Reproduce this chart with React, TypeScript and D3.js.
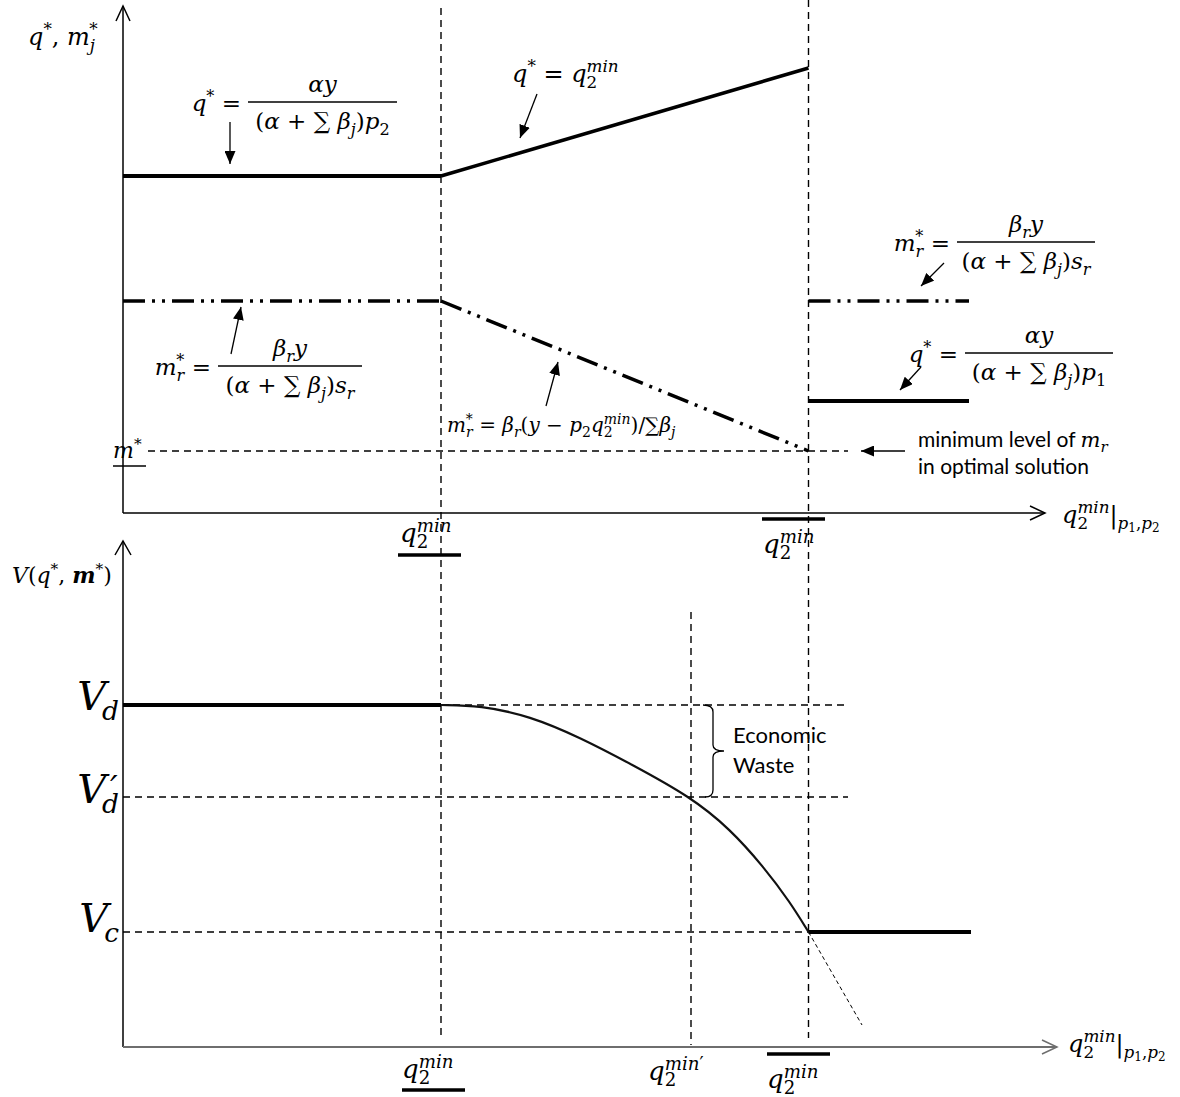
import * as d3 from 'd3';

// x values are in q2min units, y values in quantity / value units
const qLow = 3.18; // underline q2min
const qHigh = 6.855; // overline q2min
const qPrime = 5.68; // q2min'
const xEnd = 8.46;

// top panel: q* and m_r*
const qStarLeft: [number, number][] = [[0, 6.74], [qLow, 6.74]];
const qStarRising: [number, number][] = [[qLow, 6.74], [qHigh, 8.9]];
const qStarRight: [number, number][] = [[qHigh, 2.24], [xEnd, 2.24]];
const mStarLeft: [number, number][] = [[0, 4.24], [qLow, 4.24]];
const mStarFalling: [number, number][] = [[qLow, 4.24], [qHigh, 1.24]];
const mStarRight: [number, number][] = [[qHigh, 4.24], [xEnd, 4.24]];
const mStarMin = 1.24;

// bottom panel: V(q*, m*)
const vd = 6.84;
const vdPrime = 5.0;
const vc = 2.3;
const vLeft: [number, number][] = [[0, vd], [qLow, vd]];
const vCurve: [number, number][] = [
  [3.18, 6.84], [3.57, 6.83], [4.07, 6.62], [4.57, 6.19], [5.07, 5.67],
  [5.68, 5.0], [6.07, 4.36], [6.4, 3.62], [6.67, 2.9], [6.855, 2.3],
];
const vRight: [number, number][] = [[qHigh, vc], [xEnd + 0.02, vc]];
const vExtension: [number, number][] = [[qHigh, vc], [7.39, 0.44]];

const MATH = "'DejaVu Serif', serif";
const SANS = "Lato, 'Open Sans', sans-serif";

const x = d3.scaleLinear().domain([0, 10]).range([123, 1123]);
const yTop = d3.scaleLinear().domain([0, 10]).range([513, 13]);
const yBot = d3.scaleLinear().domain([0, 10]).range([1047, 547]);

const lineTop = d3.line<[number, number]>().x((d) => x(d[0])).y((d) => yTop(d[1]));
const lineBot = d3.line<[number, number]>().x((d) => x(d[0])).y((d) => yBot(d[1]));
const curveBot = d3
  .line<[number, number]>()
  .x((d) => x(d[0]))
  .y((d) => yBot(d[1]))
  .curve(d3.curveBasis);

type Run = { text: string; shift: number; italic: boolean; bold: boolean; dx?: number };

// tiny math markup: _{sub} ^{sup} ;{sub-sub} \b{bold} !{dx in em}
function parseMath(src: string): Run[] {
  const runs: Run[] = [];
  let dx: number | undefined;
  const add = (ch: string, shift: number, bold: boolean) => {
    const italic = /[A-Za-z\u03b1-\u03c9]/.test(ch);
    const last = runs[runs.length - 1];
    if (last && dx === undefined && last.shift === shift && last.italic === italic && last.bold === bold) {
      last.text += ch;
    } else {
      runs.push({ text: ch, shift, italic, bold, dx });
      dx = undefined;
    }
  };
  const group = (start: number): [string, number] => {
    const end = src.indexOf('}', start);
    return [src.slice(start, end), end + 1];
  };
  let i = 0;
  while (i < src.length) {
    const c = src[i];
    if ((c === '_' || c === '^' || c === ';') && src[i + 1] === '{') {
      const [inner, next] = group(i + 2);
      const shift = c === '^' ? 1 : c === '_' ? -1 : -2;
      for (const ch of inner) add(ch, shift, false);
      i = next;
    } else if (c === '!' && src[i + 1] === '{') {
      const [inner, next] = group(i + 2);
      dx = parseFloat(inner);
      i = next;
    } else if (c === '\\' && src[i + 1] === 'b' && src[i + 2] === '{') {
      const [inner, next] = group(i + 3);
      for (const ch of inner) add(ch, 0, true);
      i = next;
    } else {
      add(c, 0, false);
      i++;
    }
  }
  return runs;
}

function M({ x, y, src, size = 24, anchor = 'start', sub = 0.7 }: any) {
  const runs = parseMath(src);
  let cur = 0;
  return (
    <text x={x} y={y} fontSize={size} fontFamily={MATH} textAnchor={anchor} style={{ whiteSpace: 'pre' }} fill="#000">
      {runs.map((r, k) => {
        const off =
          r.shift === 1 ? -0.4 * size : r.shift === -1 ? 0.24 * size : r.shift === -2 ? 0.38 * size : 0;
        const dy = off - cur;
        cur = off;
        const fs = r.shift === -2 ? size * 0.5 : r.shift ? size * sub : size;
        return (
          <tspan
            key={k}
            dy={dy || undefined}
            dx={r.dx !== undefined ? r.dx * size : undefined}
            fontSize={fs}
            fontStyle={r.italic ? 'italic' : 'normal'}
            fontWeight={r.bold ? 'bold' : 'normal'}
          >
            {r.text}
          </tspan>
        );
      })}
    </text>
  );
}

function Frac({ lhs, x1, x2, bar, num, den, size = 23 }: any) {
  const cx = (x1 + x2) / 2;
  return (
    <g>
      <M x={x1 - 7} y={bar + 9} src={lhs} size={size} anchor="end" />
      <line x1={x1} x2={x2} y1={bar} y2={bar} stroke="#000" strokeWidth={1.4} />
      <M x={cx} y={bar - 10} src={num} size={size} anchor="middle" />
      <M x={cx} y={bar + 27} src={den} size={size} anchor="middle" />
    </g>
  );
}

const arrows = [
  [230, 122, 230, 164],
  [537, 94, 520, 138],
  [944, 263, 921, 286],
  [921, 367, 900, 390],
  [231, 354, 241, 307],
  [546, 406, 558, 362],
  [905, 451, 861, 451],
];

const Q2MIN = 'q_{2}!{-0.445}^{min}';
const AXIS_LABEL = `${Q2MIN}|_{p};{1}_{,p};{2}`;

export default function App() {
  const dash = '7 5';
  const dashDot = '22 7 3 7 3 7';
  return (
    <svg width={1180} height={1097} style={{ position: 'absolute', left: 0, top: 0, background: '#fff' }}>
      <defs>
        <marker id="ah" viewBox="0 0 13 11" refX={13} refY={5.5} markerWidth={13} markerHeight={11} markerUnits="userSpaceOnUse" orient="auto">
          <path d="M0,0 L13,5.5 L0,11 Z" fill="#000" />
        </marker>
      </defs>

      {/* vertical guides */}
      <line x1={x(qLow)} x2={x(qLow)} y1={8} y2={1040} stroke="#000" strokeWidth={1.4} strokeDasharray={dash} />
      <line x1={x(qHigh)} x2={x(qHigh)} y1={0} y2={1038} stroke="#000" strokeWidth={1.4} strokeDasharray={dash} />
      <line x1={x(qPrime)} x2={x(qPrime)} y1={612} y2={1045} stroke="#000" strokeWidth={1.4} strokeDasharray={dash} />

      {/* top panel axes */}
      <line x1={x(0)} x2={x(0)} y1={yTop(0)} y2={6} stroke="#000" strokeWidth={1.5} />
      <path d="M116,21 L123,6 L130,21" fill="none" stroke="#000" strokeWidth={1.5} />
      <line x1={x(0)} x2={1045} y1={yTop(0)} y2={yTop(0)} stroke="#000" strokeWidth={1.5} />
      <path d="M1030,506 L1045,513 L1030,520" fill="none" stroke="#000" strokeWidth={1.5} />

      {/* m* minimum guide */}
      <line x1={148} x2={848} y1={yTop(mStarMin)} y2={yTop(mStarMin)} stroke="#000" strokeWidth={1.3} strokeDasharray={dash} />

      {/* top panel series */}
      <path d={lineTop(qStarLeft)!} stroke="#000" strokeWidth={3.8} fill="none" />
      <path d={lineTop(qStarRising)!} stroke="#000" strokeWidth={3.5} fill="none" />
      <path d={lineTop(qStarRight)!} stroke="#000" strokeWidth={3.8} fill="none" />
      <path d={lineTop(mStarLeft)!} stroke="#000" strokeWidth={3.5} fill="none" strokeDasharray={dashDot} />
      <path d={lineTop(mStarFalling)!} stroke="#000" strokeWidth={3.5} fill="none" strokeDasharray={dashDot} />
      <path d={lineTop(mStarRight)!} stroke="#000" strokeWidth={3.5} fill="none" strokeDasharray={dashDot} />

      {/* bottom panel guides */}
      <line x1={x(qLow)} x2={848} y1={yBot(vd)} y2={yBot(vd)} stroke="#000" strokeWidth={1.3} strokeDasharray={dash} />
      <line x1={x(0)} x2={848} y1={yBot(vdPrime)} y2={yBot(vdPrime)} stroke="#000" strokeWidth={1.3} strokeDasharray={dash} />
      <line x1={x(0)} x2={x(qHigh)} y1={yBot(vc)} y2={yBot(vc)} stroke="#000" strokeWidth={1.3} strokeDasharray={dash} />

      {/* bottom panel axes */}
      <line x1={x(0)} x2={x(0)} y1={yBot(0)} y2={541} stroke="#000" strokeWidth={1.5} />
      <path d="M115,555 L123,541 L131,555" fill="none" stroke="#000" strokeWidth={1.5} />
      <line x1={x(0)} x2={1057} y1={yBot(0)} y2={yBot(0)} stroke="#6e6e6e" strokeWidth={1.8} />
      <path d="M1042,1040 L1057,1047 L1042,1054" fill="none" stroke="#6e6e6e" strokeWidth={1.5} />

      {/* bottom panel series */}
      <path d={lineBot(vLeft)!} stroke="#000" strokeWidth={3.8} fill="none" />
      <path d={curveBot(vCurve)!} stroke="#111" strokeWidth={2.2} fill="none" />
      <path d={lineBot(vRight)!} stroke="#000" strokeWidth={3.8} fill="none" />
      <path d={lineBot(vExtension)!} stroke="#000" strokeWidth={1} fill="none" strokeDasharray="4 3" />

      {/* arrows */}
      {arrows.map((a, k) => (
        <line key={k} x1={a[0]} y1={a[1]} x2={a[2]} y2={a[3]} stroke="#000" strokeWidth={1.3} markerEnd="url(#ah)" />
      ))}

      {/* top panel labels */}
      <M x={28} y={45} src="q^{*}, m_{j}!{-0.245}^{*}" size={24} />
      <Frac lhs="q^{*} =" x1={248} x2={397} bar={102} num="αy" den="(α + ∑ β_{j})p_{2}" />
      <M x={512} y={82} src={`q^{*} = ${Q2MIN}`} size={24} />
      <Frac lhs="m_{r}!{-0.34}^{*} =" x1={957} x2={1095} bar={242} num="β_{r}y" den="(α + ∑ β_{j})s_{r}" />
      <Frac lhs="q^{*} =" x1={965} x2={1113} bar={353} num="αy" den="(α + ∑ β_{j})p_{1}" />
      <Frac lhs="m_{r}!{-0.34}^{*} =" x1={218} x2={362} bar={366} num="β_{r}y" den="(α + ∑ β_{j})s_{r}" />
      <M x={447} y={432} src={`m_{r}!{-0.34}^{*} = β_{r}(y − p_{2}${Q2MIN})/∑β_{j}`} size={20} />
      <M x={113} y={458} src="m^{*}" size={22} />
      <line x1={113} x2={146} y1={466} y2={466} stroke="#000" strokeWidth={1.5} />
      <text x={918} y={447} fontFamily={SANS} fontSize={21}>
        minimum level of <tspan fontFamily={MATH} fontStyle="italic">m</tspan>
        <tspan fontFamily={MATH} fontStyle="italic" fontSize={15} dy={5}>r</tspan>
      </text>
      <text x={918} y={474} fontFamily={SANS} fontSize={21}>in optimal solution</text>

      <M x={400} y={542} src={Q2MIN} size={26} />
      <line x1={398} x2={461} y1={555} y2={555} stroke="#000" strokeWidth={3.5} />
      <line x1={762} x2={825} y1={519} y2={519} stroke="#000" strokeWidth={3.5} />
      <M x={763} y={553} src={Q2MIN} size={26} />
      <M x={1062} y={523} src={AXIS_LABEL} size={24} />

      {/* bottom panel labels */}
      <M x={12} y={583} src="V(q^{*}, \b{m}^{*})" size={22} />
      <M x={119} y={710} src="V!{-0.1}_{d}" size={40} sub={0.66} anchor="end" />
      <M x={119} y={803} src="V!{-0.1}_{d}" size={40} sub={0.66} anchor="end" />
      <text x={110} y={800} fontFamily={MATH} fontSize={34} fontStyle="italic">′</text>
      <M x={119} y={932} src="V!{-0.1}_{c}" size={40} sub={0.66} anchor="end" />

      <path d="M703,705 Q713,705 713,712 L713,745 Q713,751 724,751 Q713,751 713,757 L713,790 Q713,797 705,797" fill="none" stroke="#000" strokeWidth={1.3} />
      <text x={733} y={743} fontFamily={SANS} fontSize={22}>Economic</text>
      <text x={733} y={773} fontFamily={SANS} fontSize={22}>Waste</text>

      <M x={402} y={1078} src={Q2MIN} size={26} />
      <line x1={402} x2={465} y1={1090} y2={1090} stroke="#000" strokeWidth={3.5} />
      <M x={648} y={1080} src="q_{2}!{-0.445}^{min′}" size={26} />
      <line x1={767} x2={830} y1={1054} y2={1054} stroke="#000" strokeWidth={3.5} />
      <M x={767} y={1088} src={Q2MIN} size={26} />
      <M x={1068} y={1052} src={AXIS_LABEL} size={24} />
    </svg>
  );
}
